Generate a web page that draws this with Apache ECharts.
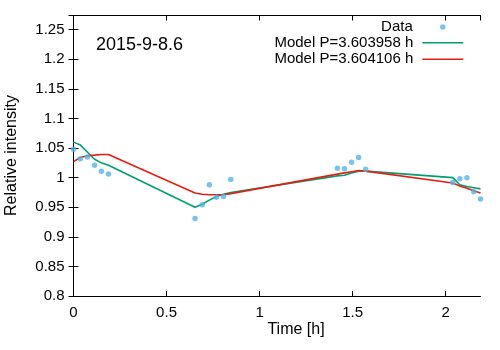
<!DOCTYPE html>
<html><head><meta charset="utf-8">
<script src="https://cdn.jsdelivr.net/npm/echarts@6/dist/echarts.min.js"></script>
<style>html,body{margin:0;padding:0;background:#fff}#c{width:500px;height:350px}</style>
</head><body><div id="c"></div>
<script>
const times = [0, 0.037, 0.075, 0.113, 0.150, 0.188,
  0.653, 0.692, 0.730, 0.768, 0.806, 0.845,
  1.418, 1.456, 1.494, 1.532, 1.570,
  2.038, 2.076, 2.114, 2.151, 2.187];
const observed = [1.048, 1.032, 1.035, 1.021, 1.011, 1.006,
  0.931, 0.954, 0.988, 0.967, 0.968, 0.997,
  1.016, 1.015, 1.026, 1.034, 1.014,
  0.992, 0.998, 1.000, 0.976, 0.964];
const model1 = [1.060, 1.055, 1.043, 1.031, 1.025, 1.021,
  0.950, 0.955, 0.962, 0.968, 0.972, 0.975,
  1.003, 1.004, 1.008, 1.011, 1.011,
  1.000, 0.988, 0.985, 0.983, 0.981];
const model2 = [1.027, 1.034, 1.037, 1.038, 1.039, 1.039,
  0.974, 0.972, 0.971, 0.971, 0.971, 0.973,
  1.006, 1.008, 1.010, 1.012, 1.011,
  0.991, 0.986, 0.982, 0.978, 0.974];
const seriesNames = ['Data', 'Model P=3.603958 h', 'Model P=3.604106 h'];
const annotation = '2015-9-8.6';
const xLabel = 'Time [h]';
const yLabel = 'Relative intensity';

const font = 'Liberation Sans, Arial, Helvetica, sans-serif';
const zip = (a, b) => a.map((v, i) => [v, b[i]]);
const fmt = v => String(+v.toFixed(3));
const X = {min: 0, max: 2.187, interval: 0.5};
const Y = {min: 0.8, max: 1.274, interval: 0.05};
const axLine = {show: true, lineStyle: {color: '#000', width: 1}};
const tick = {show: true, inside: true, length: 5, lineStyle: {color: '#000', width: 1}};
const legText = {color: '#000', fontSize: 15, fontFamily: font, lineHeight: 16.5};

const chart = echarts.init(document.getElementById('c'), null, {renderer: 'canvas'});
chart.setOption({
  animation: false,
  backgroundColor: '#fff',
  grid: {left: 73.5, right: 19.5, top: 15.5, bottom: 54, containLabel: false},
  xAxis: [
    Object.assign({type: 'value', position: 'bottom', axisLine: axLine, axisTick: tick, splitLine: {show: false},
      axisLabel: {color: '#000', fontSize: 15, fontFamily: font, margin: 9, formatter: fmt, showMaxLabel: false}}, X),
    Object.assign({type: 'value', position: 'top', axisLine: axLine, axisTick: tick, splitLine: {show: false},
      axisLabel: {show: false}}, X)
  ],
  yAxis: [
    Object.assign({type: 'value', position: 'left', axisLine: axLine, axisTick: tick, splitLine: {show: false},
      axisLabel: {color: '#000', fontSize: 15, fontFamily: font, margin: 9, formatter: fmt, showMaxLabel: false}}, Y),
    Object.assign({type: 'value', position: 'right', axisLine: axLine, axisTick: tick, splitLine: {show: false},
      axisLabel: {show: false}}, Y)
  ],
  legend: [
    {orient: 'vertical', right: 54.5, top: 18.8, align: 'right', padding: 0,
      itemWidth: 41, itemHeight: 5.5, itemGap: 0,
      textStyle: Object.assign({padding: [0, 4.5, 0, 0]}, legText),
      data: [{name: seriesNames[0], icon: 'circle'}]},
    {orient: 'vertical', right: 36.7, top: 34.5, align: 'right', padding: 0,
      itemWidth: 41, itemHeight: 1.6, itemGap: 0,
      textStyle: Object.assign({padding: [0, 4, 0, 0]}, legText),
      data: [{name: seriesNames[1], icon: 'rect'}, {name: seriesNames[2], icon: 'rect'}]}
  ],
  series: [
    {name: seriesNames[1], type: 'line', data: zip(times, model1), symbol: 'none',
      lineStyle: {color: '#009e73', width: 1.6}, itemStyle: {color: '#009e73'}, z: 3},
    {name: seriesNames[2], type: 'line', data: zip(times, model2), symbol: 'none',
      lineStyle: {color: '#e51e10', width: 1.6}, itemStyle: {color: '#e51e10'}, z: 4},
    {name: seriesNames[0], type: 'scatter', data: zip(times, observed), symbol: 'circle', symbolSize: 5.5,
      itemStyle: {color: '#56b4e9'}, z: 5}
  ],
  graphic: [
    {type: 'text', left: 96, top: 36, style: {text: annotation, fill: '#000', font: '18px ' + font}},
    {type: 'text', x: 296, y: 330, style: {text: xLabel, fill: '#000', font: '16px ' + font, align: 'center', verticalAlign: 'middle'}},
    {type: 'text', x: 12, y: 155.5, rotation: Math.PI / 2, style: {text: yLabel, fill: '#000', font: '16px ' + font, align: 'center', verticalAlign: 'middle'}}
  ]
});
</script></body></html>
